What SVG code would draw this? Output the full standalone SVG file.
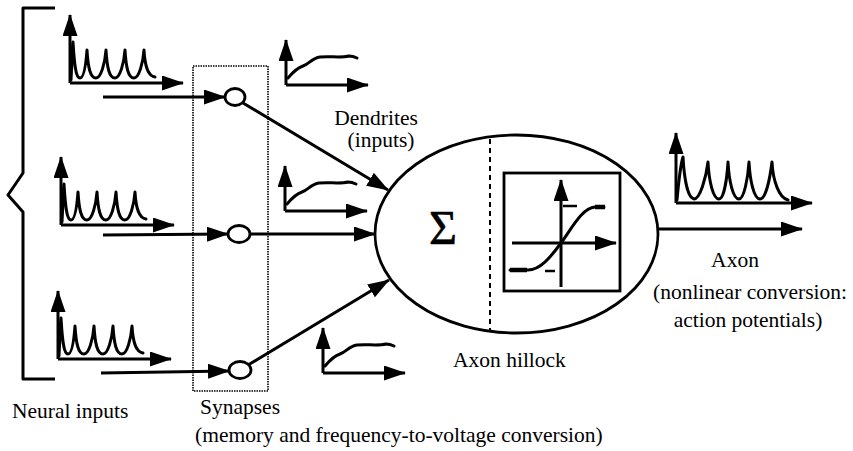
<svg xmlns="http://www.w3.org/2000/svg" xmlns:xlink="http://www.w3.org/1999/xlink" width="853" height="451" viewBox="0 0 853 451">
<style>
.ln{fill:none;stroke:#000;stroke-width:3;stroke-linejoin:round}
.ax{fill:none;stroke:#000;stroke-width:3;marker-end:url(#ah)}
.wave{fill:none;stroke:#000;stroke-width:3;stroke-linejoin:round;stroke-linecap:round}
.txt{font-family:"Liberation Serif","Times New Roman",serif;font-size:21.5px;fill:#000}
.mid{text-anchor:middle}
</style>
<defs>
<marker id="ah" markerUnits="userSpaceOnUse" markerWidth="22" markerHeight="15" refX="21" refY="7.5" orient="auto">
<path d="M0,0 L22,7.5 L0,15 z" fill="#000"/>
</marker>
<g id="spikes">
<path class="ax" d="M0,0 V-68"/>
<path class="ax" d="M0,0 H113"/>
<path class="wave" d="M1,-3 C2,-20 2,-35 3,-41 C4,-25 5,-5 10,-5 C14,-5 16,-20 17,-33 C18,-16 20,-5 26,-5 C31,-5 35,-20 36,-33 C37,-16 39,-5 45,-5 C50,-5 54,-20 55,-33 C56,-16 58,-5 64,-5 C69,-5 73,-20 74,-33 C75,-16 78,-7 85,-6"/>
</g>
<g id="filtered">
<path class="ax" d="M0,0 V-45"/>
<path class="ax" d="M0,0 H82"/>
<path class="wave" d="M2,-7 C7,-13 11,-17 17,-19 C23,-21 26,-27 34,-28 C44,-29 55,-27 63,-29 C66,-29 69,-28 71,-27"/>
</g>
</defs>
<rect width="853" height="451" fill="#fff"/>

<g id="neural-inputs">
<path class="ln" stroke-width="2.5" d="M55,8 H23 V173 L8,195 L23,212 V379 H55"/>
<use xlink:href="#spikes" href="#spikes" x="70" y="83"/>
<use xlink:href="#spikes" href="#spikes" x="61" y="225"/>
<use xlink:href="#spikes" href="#spikes" x="58" y="359"/>
<text class="txt" x="12" y="418">Neural inputs</text>
</g>

<g id="synapses">
<rect x="193" y="66" width="75" height="325" fill="none" stroke="#000" stroke-width="1.6" stroke-dasharray="1.5 1"/>
<ellipse cx="235" cy="97" rx="10" ry="8.5" fill="#fff" stroke="#000" stroke-width="2.8"/>
<ellipse cx="239" cy="234" rx="11" ry="8.5" fill="#fff" stroke="#000" stroke-width="2.8"/>
<ellipse cx="240" cy="370" rx="11" ry="8.5" fill="#fff" stroke="#000" stroke-width="2.8"/>
<text class="txt" x="200" y="414">Synapses</text>
<text class="txt" x="195" y="442">(memory and frequency-to-voltage conversion)</text>
</g>

<g id="dendrite-signals">
<use xlink:href="#filtered" href="#filtered" x="286" y="85"/>
<use xlink:href="#filtered" href="#filtered" x="285" y="211"/>
<use xlink:href="#filtered" href="#filtered" x="323" y="373"/>
<text class="txt mid" x="376" y="125">Dendrites</text>
<text class="txt mid" x="381" y="147">(inputs)</text>
</g>

<g id="cell">
<ellipse cx="516.5" cy="234" rx="141.5" ry="99" fill="none" stroke="#000" stroke-width="2.8"/>
<path d="M490,139 V332" fill="none" stroke="#000" stroke-width="2" stroke-dasharray="5 4"/>
<text x="443" y="244" text-anchor="middle" font-family="'Liberation Serif','Times New Roman',serif" font-size="48" stroke="#000" stroke-width="0.6">Σ</text>
<rect x="504" y="173" width="116" height="118" fill="none" stroke="#000" stroke-width="2.8"/>
<path class="ax" d="M561,287 V180"/>
<path class="ax" d="M512,243 H616"/>
<path class="wave" d="M510,270 H528 C540,270 550,258 561,243 C572,228 582,208 595,207 H604"/>
<path d="M510,270 H527 M595,207 H605" stroke="#000" stroke-width="4.5" fill="none"/>
<path d="M563,206 H577 M545,271 H555" stroke="#000" stroke-width="2.5" fill="none"/>
<text class="txt" x="453" y="367">Axon hillock</text>
</g>

<g id="axon">
<g transform="translate(676,203)">
<path class="ax" d="M0,0 V-70"/>
<path class="ax" d="M0,0 H136"/>
<path class="wave" d="M1,-3 C3,-25 5,-40 7,-46 C8,-28 11,-5 18,-4 C24,-4 30,-25 32,-41 C33,-22 37,-4 43,-4 C48,-4 51,-25 52,-41 C53,-22 57,-4 63,-4 C68,-4 72,-25 73,-41 C74,-22 78,-4 84,-4 C90,-4 94,-25 96,-41 C97,-22 103,-5 112,-3"/>
</g>
<text class="txt mid" x="735" y="267">Axon</text>
<text class="txt mid" x="750" y="299">(nonlinear conversion:</text>
<text class="txt mid" x="748" y="327">action potentials)</text>
</g>

<g id="connectors">
<path class="ax" d="M103,97 H225"/>
<path class="ax" d="M103,235 L228,234"/>
<path class="ax" d="M101,373 L229,371"/>
<path class="ax" d="M243,103 L388,190"/>
<path class="ax" d="M250,234 H375"/>
<path class="ax" d="M248,365 L389,280"/>
<path class="ax" d="M658,229 H802"/>
</g>
</svg>
